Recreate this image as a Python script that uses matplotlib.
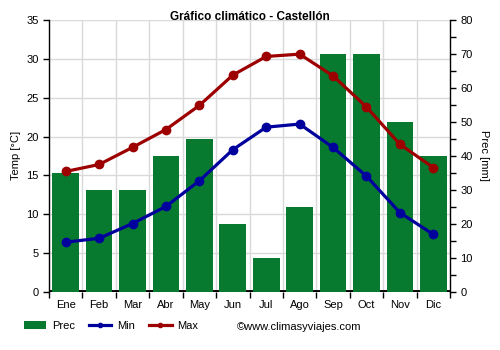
import matplotlib.pyplot as plt
import numpy as np

plt.rcParams['font.family'] = ['Liberation Sans', 'DejaVu Sans']

# data
months = ['Ene', 'Feb', 'Mar', 'Abr', 'May', 'Jun', 'Jul', 'Ago', 'Sep', 'Oct', 'Nov', 'Dic']
prec = [35, 30, 30, 40, 45, 20, 10, 25, 70, 70, 50, 40]
t_min = [6.4, 6.9, 8.8, 11.0, 14.3, 18.3, 21.2, 21.6, 18.6, 14.9, 10.2, 7.4]
t_max = [15.5, 16.4, 18.6, 20.9, 24.0, 27.9, 30.3, 30.6, 27.8, 23.8, 19.0, 16.0]

c_prec = '#077a30'
c_min = '#00009c'
c_max = '#9c0000'

fig = plt.figure(figsize=(5, 3.5), dpi=100)
ax = fig.add_axes([0.098, 0.166, 0.802, 0.777])
ax2 = ax.twinx()

x = np.arange(len(months))

# precipitation bars on right axis, drawn below temperature lines
ax2.bar(x, prec, width=0.8, color=c_prec, zorder=2, label='Prec')
ax2.set_ylim(0, 80)
ax2.set_yticks(range(0, 81, 10))
ax2.set_yticks(range(5, 80, 10), minor=True)
ax2.set_ylabel('Prec [mm]', rotation=270, labelpad=12, fontsize=8)
ax2.tick_params(axis='y', labelsize=8, length=4, width=1)
ax2.tick_params(axis='y', which='minor', length=4, width=1)

ax.set_zorder(ax2.get_zorder() + 1)
ax.patch.set_visible(False)

ax.plot(x, t_min, color=c_min, lw=2.3, marker='o', ms=6, label='Min', zorder=4)
ax.plot(x, t_max, color=c_max, lw=2.3, marker='o', ms=6, label='Max', zorder=4)
ax.set_ylim(0, 35)
ax.set_xlim(-0.5, 11.5)
ax.set_yticks(range(0, 36, 5))
ax.set_ylabel('Temp [°C]', fontsize=8, labelpad=4)
ax.tick_params(axis='y', labelsize=8, length=4, width=1)

# month labels centered, ticks on boundaries
ax.set_xticks(x)
ax.set_xticklabels(months, fontsize=8)
ax.tick_params(axis='x', which='major', length=0, pad=6)
ax.set_xticks(np.arange(-0.5, 12, 1), minor=True)
ax.tick_params(axis='x', which='minor', length=4, width=1)

# grid lines behind bars
for v in range(5, 36, 5):
    ax2.axhline(v * 80 / 35, color='#d9d9d9', lw=1, zorder=0)
for b in np.arange(0.5, 11.5, 1):
    ax2.axvline(b, color='#d9d9d9', lw=1, zorder=0)
ax2.axhline(0, color='black', lw=3.5, zorder=1)

for a in (ax, ax2):
    a.spines['top'].set_visible(False)
    a.spines['bottom'].set_visible(False)
    a.spines['left'].set_linewidth(1)
    a.spines['right'].set_linewidth(1)
ax2.spines['left'].set_visible(False)
ax.spines['right'].set_visible(False)

fig.text(0.5, 0.951, 'Gráfico climático - Castellón', fontsize=8.5, fontweight='bold',
         ha='center', va='center')

# legend
h1, l1 = ax2.get_legend_handles_labels()
h2, l2 = ax.get_legend_handles_labels()
fig.legend(h1 + h2, l1 + l2, loc='center left', bbox_to_anchor=(0.048, 0.068), ncol=3,
           frameon=False, fontsize=8, handlelength=2.0, columnspacing=1.3,
           handletextpad=0.5, markerscale=0.5, borderpad=0, borderaxespad=0)
fig.text(0.473, 0.066, '©www.climasyviajes.com', fontsize=8, va='center')

fig.savefig('out.png', dpi=100)
